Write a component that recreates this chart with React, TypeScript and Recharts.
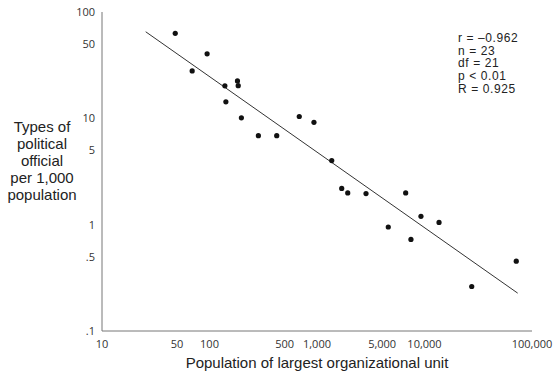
import { ScatterChart, Scatter, XAxis, YAxis } from "recharts";

// population of largest organizational unit (log axis)
const population = [
    48, 95, 69, 139, 182, 185, 142, 198, 285, 422, 684, 937,
    1371, 1698, 1932, 2857, 6683, 4603, 9270, 13650, 7480, 71400, 27500,
];
// types of political official per 1,000 population
const officials = [
    63, 40.4, 27.9, 20.2, 22.5, 20.3, 14.3, 10.1, 6.87, 6.87, 10.4, 9.17,
    4.01, 2.19, 1.99, 1.96, 1.99, 0.951, 1.197, 1.05, 0.727, 0.454, 0.262,
];

// regression line end points
const fitX = [25.5, 73600];
const fitY = [65.2, 0.227];

const xTicks = [10, 50, 100, 500, 1000, 5000, 10000, 100000];
const yTicks = [0.1, 0.5, 1, 5, 10, 50, 100];

const stats = ["r = \u20130.962", "n = 23", "df = 21", "p < 0.01", "R = 0.925"];
const yTitle = ["Types of", "political", "official", "per 1,000", "population"];
const xTitle = "Population of largest organizational unit";

const points = population.map((p, i) => ({ x: p, y: officials[i] }));
const fit = fitX.map((x, i) => ({ x, y: fitY[i] }));

const tickFont = "'Open Sans', sans-serif";
const labelFont = "'Liberation Sans', Arial, sans-serif";

const fmtX = (v: number) => (v >= 1000 ? v.toLocaleString("en-US") : String(v));
const fmtY = (v: number) => (v < 1 ? String(v).replace(/^0/, "") : String(v));

function XTick(props: any) {
    const { x, y, payload } = props;
    const shift = payload.value === 5000 ? -10 : 0;
    return (
        <text x={x + shift} y={y} dy="0.71em" textAnchor="middle" fontSize={11}
            fontFamily={tickFont} fill="#333">
            {fmtX(payload.value)}
        </text>
    );
}

const Dot = (props: any) => <circle cx={props.cx} cy={props.cy} r={2.6} fill="#111" />;
const NoDot = () => <g />;

export default function App() {
    return (
        <div style={{ position: "absolute", left: 0, top: 0, width: 557, height: 379, background: "#fff" }}>
            <ScatterChart width={557} height={379} margin={{ top: 12, right: 25, bottom: 0, left: 0 }}>
                <XAxis
                    type="number"
                    dataKey="x"
                    scale="log"
                    domain={[10, 100000]}
                    allowDataOverflow
                    ticks={xTicks}
                    interval={0}
                    height={48}
                    tickSize={0}
                    tickMargin={9}
                    tickLine={false}
                    axisLine={{ stroke: "#777" }}
                    tick={<XTick />}
                />
                <YAxis
                    type="number"
                    dataKey="y"
                    scale="log"
                    domain={[0.1, 100]}
                    allowDataOverflow
                    ticks={yTicks}
                    interval={0}
                    width={102}
                    tickSize={0}
                    tickMargin={7}
                    tickLine={false}
                    axisLine={{ stroke: "#777" }}
                    tickFormatter={fmtY}
                    tick={{ fontSize: 11, fontFamily: tickFont, fill: "#333" }}
                />
                <Scatter data={fit} line={{ stroke: "#333", strokeWidth: 1 }} lineType="joint"
                    shape={NoDot} isAnimationActive={false} />
                <Scatter data={points} shape={Dot} isAnimationActive={false} />
            </ScatterChart>
            <div style={{
                position: "absolute", left: 458, top: 32, fontFamily: labelFont,
                fontSize: 12, letterSpacing: 0.6, lineHeight: "12.7px", color: "#222",
                whiteSpace: "nowrap",
            }}>
                {stats.map(t => <div key={t}>{t}</div>)}
            </div>
            <div style={{
                position: "absolute", left: 0, width: 84, top: 118, textAlign: "center",
                fontFamily: labelFont, fontSize: 15, lineHeight: "17px", color: "#222",
            }}>
                {yTitle.map(t => <div key={t}>{t}</div>)}
            </div>
            <div style={{
                position: "absolute", left: 102, width: 430, top: 354, textAlign: "center",
                fontFamily: labelFont, fontSize: 15, color: "#222", whiteSpace: "nowrap",
            }}>
                {xTitle}
            </div>
        </div>
    );
}
